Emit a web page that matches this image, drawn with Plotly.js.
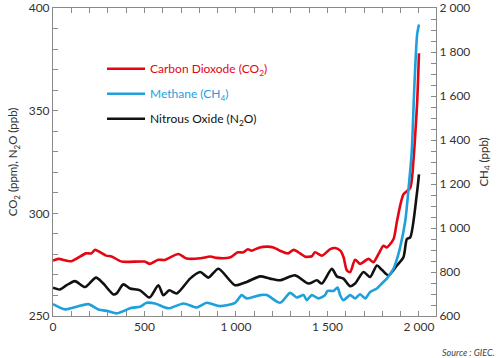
<!DOCTYPE html>
<html>
<head>
<meta charset="utf-8">
<script src="https://cdn.plot.ly/plotly-3.0.1.min.js"></script>
<style>html,body{margin:0;padding:0;background:#fff;}#chart{width:500px;height:358px;}</style>
</head>
<body>
<div id="chart"></div>
<script>
// Years (AD) and concentrations
const co2Years = [0,30,100,180,210,230,290,320,375,500,530,575,610,685,730,805,860,895,970,1010,1040,1065,1085,1130,1170,1205,1240,1285,1315,1350,1378,1414,1432,1470,1515,1542,1570,1588,1606,1624,1651,1678,1724,1751,1779,1806,1824,1861,1880,1915,1952,1970,1980,1990,2000];
const co2Ppm   = [277,277.8,276.7,280.5,280.5,282.2,279.4,279,276.5,276.5,275.4,277.4,277.3,280.2,278,278.1,279,278.3,278.6,281,281,282.5,281.8,283.4,283.8,283.4,281.8,280.5,282.2,280.5,278.9,279.1,281,279.4,282.6,283.1,281.8,278.6,272.2,271.4,277.4,275.4,277.8,276.2,280.2,284.2,283.4,287.5,296.3,309.2,312.4,326,339,354,378];

const ch4Years = [0,66,130,193,248,302,348,430,476,512,558,631,713,786,840,913,995,1031,1059,1132,1168,1241,1296,1332,1369,1387,1414,1451,1487,1500,1533,1555,1569,1587,1624,1651,1678,1706,1733,1770,1800,1824,1861,1880,1897,1925,1943,1960,1975,1990,2000];
const ch4Ppb   = [654,630,642,654,630,622,612,637,642,660,657,635,657,639,660,645,660,695,680,695,695,660,705,684,695,672,695,680,695,714,714,729,695,672,695,680,699,680,709,725,750,770,815,860,912,1032,1180,1340,1650,1880,1925];

const n2oYears = [0,38,75,120,175,235,275,330,348,384,421,476,527,576,603,636,676,749,804,849,904,995,1059,1132,1186,1241,1323,1396,1442,1469,1524,1551,1587,1624,1651,1697,1733,1770,1797,1833,1879,1915,1934,1952,1988,2000];
const n2oPpb   = [263.8,262.9,265,267,264.1,268.7,265.8,260.5,261,265.4,263.4,262.5,259,265,260.1,262.5,261,268.2,271.4,268.7,273,265,266.6,269.3,268.2,267.4,269.8,265.8,267.4,265.8,273,269.3,268.2,264.5,265.8,271.4,269,274.6,272.5,269.8,274.6,278.6,287.5,288.3,309.2,319];

const names = [
  '<span style="color:#e30613">Carbon Dioxode (CO<sub>2</sub>)</span>',
  '<span style="color:#1ea0dc">Methane (CH<sub>4</sub>)</span>',
  '<span style="color:#111111">Nitrous Oxide (N<sub>2</sub>O)</span>'
];
const colors = ['#e30613', '#1ea0dc', '#111111'];

const FONT = 'Lato, "Open Sans", sans-serif';
const LINE = {width: 2.6, shape: 'spline', smoothing: 0.7};

const traces = [
  {x: ch4Years, y: ch4Ppb, yaxis: 'y2', name: names[1], legendrank: 2, legendgroup: 'b', type: 'scatter', mode: 'lines', line: Object.assign({color: colors[1]}, LINE)},
  {x: n2oYears, y: n2oPpb, yaxis: 'y', name: names[2], legendrank: 3, legendgroup: 'c', type: 'scatter', mode: 'lines', line: Object.assign({color: colors[2]}, LINE)},
  {x: co2Years, y: co2Ppm, yaxis: 'y', name: names[0], legendrank: 1, legendgroup: 'a', type: 'scatter', mode: 'lines', line: Object.assign({color: colors[0]}, LINE)}
];

const axisCommon = {
  showgrid: false, zeroline: false, showline: true, linecolor: '#8a8a8a', linewidth: 1,
  ticks: 'inside', ticklen: 5, tickcolor: '#8a8a8a', tickwidth: 1,
  separatethousands: true, ticklabeloverflow: 'allow',
  tickfont: {family: FONT, size: 12, color: '#333'}
};

const layout = {
  width: 500, height: 358,
  margin: {l: 53, r: 64, t: 8, b: 42},
  paper_bgcolor: '#fff', plot_bgcolor: '#fff',
  separators: ', ',
  font: {family: FONT, color: '#333'},
  showlegend: true,
  legend: {x: 0.128, y: 0.85, xanchor: 'left', yanchor: 'top', bgcolor: 'rgba(0,0,0,0)', borderwidth: 0,
           font: {family: FONT, size: 12, color: '#222'}, tracegroupgap: 6, itemwidth: 38, traceorder: 'grouped'},
  xaxis: Object.assign({}, axisCommon, {range: [0, 2093], tickvals: [0,500,1000,1500,2000], mirror: 'ticks',
    minor: {dtick: 100, ticks: 'inside', ticklen: 5, tickcolor: '#8a8a8a'}}),
  yaxis: Object.assign({}, axisCommon, {range: [250, 400], dtick: 50,
    minor: {dtick: 10, ticks: 'inside', ticklen: 5, tickcolor: '#8a8a8a'},
    title: {text: 'CO<sub>2</sub> (ppm), N<sub>2</sub>O (ppb)', font: {family: FONT, size: 11.5, color: '#333'}, standoff: 8}}),
  yaxis2: Object.assign({}, axisCommon, {range: [600, 2000], dtick: 200, overlaying: 'y', side: 'right',
    minor: {dtick: 50, ticks: 'inside', ticklen: 5, tickcolor: '#8a8a8a'},
    title: {text: 'CH<sub>4</sub> (ppb)', font: {family: FONT, size: 11.5, color: '#333'}, standoff: 10}}),
  annotations: [
    {xref: 'paper', yref: 'paper', x: 1.16, y: -0.117, xanchor: 'right', yanchor: 'middle', showarrow: false,
     text: '<i>Source : GIEC.</i>', font: {family: FONT, size: 9, color: '#444'}}
  ]
};

Plotly.newPlot('chart', traces, layout, {displayModeBar: false, staticPlot: true});
</script>
</body>
</html>
